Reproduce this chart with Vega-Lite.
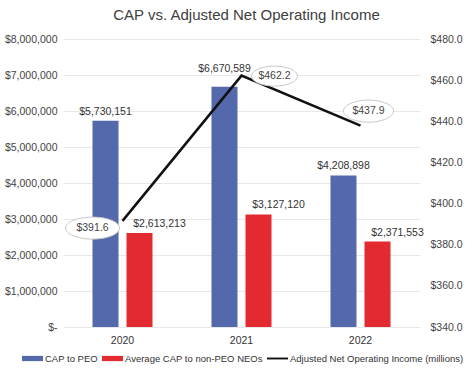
{
  "$schema": "https://vega.github.io/schema/vega-lite/v6.json",
  "autosize": "none",
  "width": 357,
  "height": 288,
  "padding": {"left": 63, "top": 39, "right": 47, "bottom": 51},
  "background": "white",
  "title": {
    "text": "CAP vs. Adjusted Net Operating Income",
    "font": "Liberation Sans",
    "fontSize": 15,
    "fontWeight": "normal",
    "color": "#404040",
    "anchor": "middle",
    "dx": 5,
    "offset": 11
  },
  "datasets": {
    "cap": [
      {"year": "2020", "series": "CAP to PEO", "value": 5730151},
      {"year": "2020", "series": "Average CAP to non-PEO NEOs", "value": 2613213},
      {"year": "2021", "series": "CAP to PEO", "value": 6670589},
      {"year": "2021", "series": "Average CAP to non-PEO NEOs", "value": 3127120},
      {"year": "2022", "series": "CAP to PEO", "value": 4208898},
      {"year": "2022", "series": "Average CAP to non-PEO NEOs", "value": 2371553}
    ],
    "noi": [
      {"year": "2020", "noi": 391.6},
      {"year": "2021", "noi": 462.2},
      {"year": "2022", "noi": 437.9}
    ]
  },
  "config": {
    "font": "Liberation Sans",
    "view": {"stroke": null},
    "axis": {
      "labelFont": "Liberation Sans",
      "labelFontSize": 10.5,
      "labelColor": "#444444",
      "labelOverlap": false,
      "ticks": false,
      "domain": false,
      "title": null
    },
    "text": {"font": "Liberation Sans", "fontSize": 10.5, "color": "#333333"}
  },
  "layer": [
    {
      "data": {"name": "cap"},
      "encoding": {
        "x": {"field": "year", "type": "nominal", "scale": {"paddingInner": 0, "paddingOuter": 0}, "axis": {"labelAngle": 0, "labelPadding": 8, "grid": false, "labelColor": "#333333"}},
        "xOffset": {"field": "series", "type": "nominal", "scale": {"domain": ["CAP to PEO", "Average CAP to non-PEO NEOs"], "paddingInner": 0.235, "paddingOuter": 0.867}},
        "y": {"field": "value", "type": "quantitative", "scale": {"domain": [0, 8000000]}, "axis": {"values": [0, 1000000, 2000000, 3000000, 4000000, 5000000, 6000000, 7000000, 8000000], "labelOverlap": false, "labelExpr": "datum.value === 0 ? '$-' : '$' + format(datum.value, ',')", "gridColor": "#e8e8e8", "labelPadding": 6}}
      },
      "layer": [
        {
          "mark": {"type": "bar"},
          "encoding": {
            "color": {
              "field": "series",
              "type": "nominal",
              "scale": {"domain": ["CAP to PEO", "Average CAP to non-PEO NEOs", "Adjusted Net Operating Income (millions)"], "range": ["#5468AC", "#E32A30", "#111111"]},
              "legend": {
                "orient": "none",
                "legendX": -41,
                "legendY": 309,
                "direction": "horizontal",
                "title": null,
                "labelFont": "Liberation Sans",
                "labelFontSize": 9.5,
                "labelLimit": 300,
                "labelColor": "#333333",
                "labelOffset": 2,
                "columnPadding": 4,
                "symbolSize": 441,
                "symbolStrokeWidth": 0,
                "symbolType": "M-1,-0.25H1V0.25H-1Z",
                "encode": {
                  "symbols": {
                    "update": {
                      "shape": {"signal": "datum.value === 'Adjusted Net Operating Income (millions)' ? 'M-1,-0.09H1V0.09H-1Z' : 'M-1,-0.25H1V0.25H-1Z'"}
                    }
                  }
                }
              }
            }
          }
        },
        {
          "transform": [{"filter": "datum.series === 'CAP to PEO' && datum.year !== '2021'"}],
          "mark": {"type": "text", "baseline": "bottom", "dy": -4},
          "encoding": {
            "text": {"field": "value", "type": "quantitative", "format": "$,.0f"}
          }
        },
        {
          "transform": [{"filter": "datum.series === 'CAP to PEO' && datum.year === '2021'"}],
          "mark": {"type": "text", "baseline": "bottom", "dy": -13},
          "encoding": {
            "text": {"field": "value", "type": "quantitative", "format": "$,.0f"}
          }
        },
        {
          "transform": [{"filter": "datum.series === 'Average CAP to non-PEO NEOs'"}],
          "mark": {"type": "text", "baseline": "bottom", "dy": -4, "dx": 20},
          "encoding": {
            "text": {"field": "value", "type": "quantitative", "format": "$,.0f"}
          }
        }
      ]
    },
    {
      "data": {"name": "noi"},
      "encoding": {
        "x": {"field": "year", "type": "nominal"},
        "y": {"field": "noi", "type": "quantitative", "scale": {"domain": [340, 480]}, "axis": {"orient": "right", "values": [340, 360, 380, 400, 420, 440, 460, 480], "format": "$.1f", "grid": false, "labelPadding": 10}}
      },
      "layer": [
        {
          "mark": {"type": "line", "strokeWidth": 2.5},
          "encoding": {
            "color": {"datum": "Adjusted Net Operating Income (millions)", "type": "nominal"}
          }
        },
        {
          "mark": {"type": "point", "filled": true, "fill": "white", "stroke": "#c8c8c8", "strokeWidth": 1, "opacity": 1, "size": 2500},
          "encoding": {
            "shape": {
              "field": "year",
              "type": "nominal",
              "legend": null,
              "scale": {
                "domain": ["2020", "2021", "2022"],
                "range": [
                  "M-2.28,0.29A1.08,0.44,0,1,1,-0.12,0.29A1.08,0.44,0,1,1,-2.28,0.29Z",
                  "M0.4,0.02A0.92,0.4,0,1,1,2.24,0.02A0.92,0.4,0,1,1,0.4,0.02Z",
                  "M-0.68,-0.58A1,0.44,0,1,1,1.32,-0.58A1,0.44,0,1,1,-0.68,-0.58Z"
                ]
              }
            }
          }
        },
        {
          "transform": [{"filter": "datum.year === '2020'"}],
          "mark": {"type": "text", "baseline": "middle", "dx": -30, "dy": 7, "color": "#444444"},
          "encoding": {
            "text": {"field": "noi", "type": "quantitative", "format": "$.1f"}
          }
        },
        {
          "transform": [{"filter": "datum.year === '2021'"}],
          "mark": {"type": "text", "baseline": "middle", "dx": 33, "dy": 0, "color": "#444444"},
          "encoding": {
            "text": {"field": "noi", "type": "quantitative", "format": "$.1f"}
          }
        },
        {
          "transform": [{"filter": "datum.year === '2022'"}],
          "mark": {"type": "text", "baseline": "middle", "dx": 8, "dy": -14.5, "color": "#444444"},
          "encoding": {
            "text": {"field": "noi", "type": "quantitative", "format": "$.1f"}
          }
        }
      ]
    }
  ],
  "resolve": {"scale": {"y": "independent"}}
}
